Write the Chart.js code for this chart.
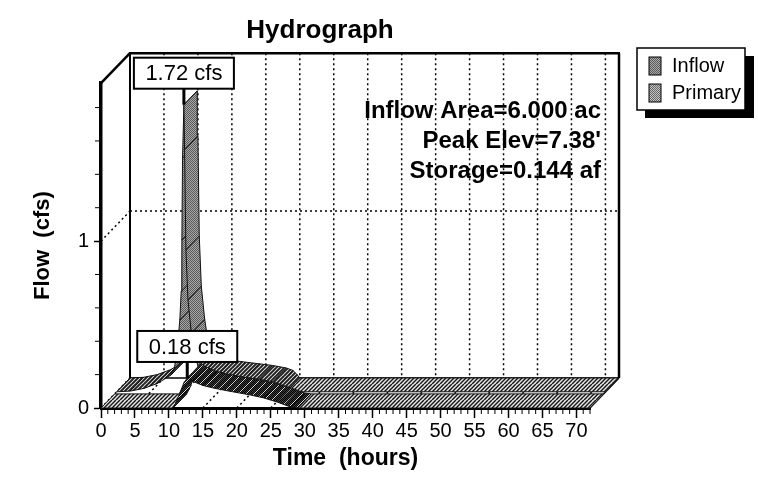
<!DOCTYPE html>
<html>
<head>
<meta charset="utf-8">
<title>Hydrograph</title>
<script src="https://cdn.jsdelivr.net/npm/chart.js@4"></script>
<style>
html, body { margin: 0; padding: 0; background: #fff; }
#wrap { width: 758px; height: 480px; }
</style>
</head>
<body>
<div id="wrap"><canvas id="hydrograph" width="758" height="480"></canvas></div>
<script>
// values
const inflowHours = [0, 2, 4, 5, 6, 7, 8, 8.5, 8.9, 9.3, 9.5, 9.6, 9.7, 9.9, 10, 10.2, 10.5, 11, 11.5, 12, 13, 15, 17, 19, 21, 23, 24, 24.6, 25, 72];
const inflowFlow = [0, 0.004, 0.02, 0.035, 0.05, 0.075, 0.1, 0.14, 0.25, 0.43, 0.6, 0.91, 1.4, 1.72, 1.45, 0.85, 0.55, 0.35, 0.22, 0.15, 0.12, 0.105, 0.095, 0.085, 0.075, 0.06, 0.045, 0.02, 0, 0];
const primaryHours = [0, 10.6, 11, 11.6, 12.2, 12.7, 13.5, 15, 16.5, 19, 22, 24, 26, 27, 28, 29, 72];
const primaryFlow = [0, 0, 0.03, 0.09, 0.15, 0.18, 0.16, 0.135, 0.12, 0.1, 0.078, 0.06, 0.035, 0.02, 0.005, 0, 0];

const xTicks = [0, 5, 10, 15, 20, 25, 30, 35, 40, 45, 50, 55, 60, 65, 70];
const yTicks = [0, 1];
const yMinorTicks = [0.2, 0.4, 0.6, 0.8, 1.2, 1.4, 1.6, 1.8];
const xMax = 72;
const yMax = 1.946;

const seriesNames = ["Inflow", "Primary"];
const noteLines = ["Inflow Area=6.000 ac", "Peak Elev=7.38'", "Storage=0.144 af"];

// depth of the fake 3d box, in data units (about 29px / 30px)
const depthHours = 4.27;
const depthFlow = 0.18;

const FONT = '"Liberation Sans", Arial, sans-serif';

function makePattern(draw) {
    const c = document.createElement("canvas");
    c.width = 8;
    c.height = 8;
    draw(c.getContext("2d"));
    return document.createElement("canvas").getContext("2d").createPattern(c, "repeat");
}

function stipple(ctx, dark, light) {
    ctx.fillStyle = light;
    ctx.fillRect(0, 0, 8, 8);
    ctx.fillStyle = dark;
    for (let y = 0; y < 8; y++) {
        for (let x = 0; x < 8; x++) {
            if ((x + y) % 2 === 0) ctx.fillRect(x, y, 1, 1);
        }
    }
}

function hatch(ctx, line) {
    ctx.strokeStyle = line;
    ctx.lineWidth = 1.5;
    for (let i = -8; i <= 16; i += 4) {
        ctx.beginPath();
        ctx.moveTo(i, 8);
        ctx.lineTo(i + 8, 0);
        ctx.stroke();
    }
}

function sparseHatch(ctx, line) {
    ctx.strokeStyle = line;
    ctx.lineWidth = 1;
    for (let i = -8; i <= 16; i += 8) {
        ctx.beginPath();
        ctx.moveTo(i, 8);
        ctx.lineTo(i + 8, 0);
        ctx.stroke();
    }
}

const inflowSolid = makePattern((ctx) => stipple(ctx, "#5a5a5a", "#a8a8a8"));
const inflowHatch = makePattern((ctx) => { stipple(ctx, "#6e6e6e", "#cfcfcf"); hatch(ctx, "#222"); });
const primarySolid = makePattern((ctx) => stipple(ctx, "#000", "#3a3a3a"));
const primaryHatch = makePattern((ctx) => { stipple(ctx, "#000", "#3a3a3a"); sparseHatch(ctx, "#d8d8d8"); });
const primarySwatch = makePattern((ctx) => stipple(ctx, "#666", "#c4c4c4"));
const floorHatch = makePattern((ctx) => { ctx.fillStyle = "#e8e8e8"; ctx.fillRect(0, 0, 8, 8); hatch(ctx, "#1a1a1a"); });

// one closed quad per stretch of the series, front edge then back edge
function ribbon(hours, flow, nearDepth, farDepth, solid, sloped) {
    const sets = [];
    for (let i = 0; i < hours.length - 1; i++) {
        const rate = Math.abs(flow[i + 1] - flow[i]) / (hours[i + 1] - hours[i]);
        let pattern = sloped;
        if (flow[i] === 0 && flow[i + 1] === 0) pattern = floorHatch;
        else if (rate > 0.12) pattern = solid;
        const corner = (k, d) => ({ x: hours[k] + depthHours * d, y: flow[k] + depthFlow * d });
        sets.push({
            data: [corner(i, nearDepth), corner(i + 1, nearDepth), corner(i + 1, farDepth), corner(i, farDepth), corner(i, nearDepth)],
            quadFill: pattern,
            borderColor: "#111",
            borderWidth: 1,
            pointRadius: 0,
            fill: false,
            clip: false,
        });
    }
    return sets;
}

const inflowSets = ribbon(inflowHours, inflowFlow, 0.54, 1, inflowSolid, inflowHatch);
const primarySets = ribbon(primaryHours, primaryFlow, 0, 0.47, primarySolid, primaryHatch);
// later datasets paint on top only with a lower order
const allSets = inflowSets.concat(primarySets);
allSets.forEach((set, i) => { set.order = allSets.length - i; });

function line(ctx, x1, y1, x2, y2, width, dash) {
    ctx.save();
    ctx.lineWidth = width;
    ctx.strokeStyle = "#000";
    ctx.setLineDash(dash || []);
    ctx.beginPath();
    ctx.moveTo(x1, y1);
    ctx.lineTo(x2, y2);
    ctx.stroke();
    ctx.restore();
}

const boxWalls = {
    id: "boxWalls",
    beforeDatasetsDraw(chart) {
        const { ctx, scales: { x, y } } = chart;
        const dx = x.getPixelForValue(depthHours) - x.getPixelForValue(0);
        const dy = y.getPixelForValue(0) - y.getPixelForValue(depthFlow);
        const left = x.getPixelForValue(0);
        const right = x.getPixelForValue(xMax);
        const top = y.getPixelForValue(yMax);
        const bottom = y.getPixelForValue(0);
        const dots = [2, 3];

        xTicks.forEach((t) => {
            const px = x.getPixelForValue(t);
            line(ctx, px + dx, top - dy, px + dx, bottom - dy, 1.5, dots);
            line(ctx, px, bottom, px + dx, bottom - dy, 1.5, dots);
        });
        const onePx = y.getPixelForValue(1);
        line(ctx, left, onePx, left + dx, onePx - dy, 1.5, dots);
        line(ctx, left + dx, onePx - dy, right + dx, onePx - dy, 1.5, dots);

        line(ctx, left + dx, top - dy, left + dx, bottom - dy, 2);
        line(ctx, left + dx, bottom - dy, right + dx, bottom - dy, 1.5);
        line(ctx, left + dx - 1, top - dy, right + dx + 1, top - dy, 2.5);
        line(ctx, right + dx, top - dy, right + dx, bottom - dy, 2.5);
        line(ctx, left, top, left + dx, top - dy, 2.5);
        line(ctx, right, bottom, right + dx, bottom - dy, 1.5);

        // minor ticks
        for (let t = 0; t <= xMax; t++) {
            if (t % 5 === 0) continue;
            const px = x.getPixelForValue(t);
            line(ctx, px, bottom, px, bottom + 6, 1);
        }
        yMinorTicks.forEach((v) => {
            const py = y.getPixelForValue(v);
            line(ctx, left - 6, py, left, py, 1);
        });
    },
    // the filler clips to the chart area, the quads have to run past it
    beforeDatasetDraw(chart, args) {
        const { ctx } = chart;
        const pts = args.meta.data;
        ctx.save();
        ctx.fillStyle = chart.data.datasets[args.index].quadFill;
        ctx.beginPath();
        pts.forEach((p, i) => (i ? ctx.lineTo(p.x, p.y) : ctx.moveTo(p.x, p.y)));
        ctx.closePath();
        ctx.fill();
        ctx.restore();
    },
};

function peakLabel(ctx, x, y, hour, flow, text, gap) {
    const px = x.getPixelForValue(hour);
    const py = y.getPixelForValue(flow);
    const w = 100, h = 31;
    line(ctx, px, py, px, py - gap, 3);
    ctx.fillStyle = "#fff";
    ctx.fillRect(px - w / 2, py - gap - h, w, h);
    ctx.lineWidth = 2;
    ctx.strokeStyle = "#000";
    ctx.strokeRect(px - w / 2, py - gap - h, w, h);
    ctx.fillStyle = "#000";
    ctx.font = "22px " + FONT;
    ctx.textAlign = "center";
    ctx.textBaseline = "middle";
    ctx.fillText(text, px, py - gap - h / 2 + 1);
}

const overlays = {
    id: "overlays",
    afterDatasetsDraw(chart) {
        const { ctx, scales: { x, y } } = chart;

        const inPeak = inflowFlow.indexOf(Math.max(...inflowFlow));
        const prPeak = primaryFlow.indexOf(Math.max(...primaryFlow));
        peakLabel(ctx, x, y, inflowHours[inPeak] + depthHours * 0.54, inflowFlow[inPeak] + depthFlow * 0.54, inflowFlow[inPeak].toFixed(2) + " cfs", 16);
        peakLabel(ctx, x, y, primaryHours[prPeak], primaryFlow[prPeak], primaryFlow[prPeak].toFixed(2) + " cfs", 16);

        ctx.save();
        ctx.fillStyle = "#000";
        ctx.font = "bold 24px " + FONT;
        ctx.textAlign = "right";
        ctx.textBaseline = "middle";
        noteLines.forEach((text, i) => ctx.fillText(text, 601, 111 + i * 30));

        // legend
        ctx.fillStyle = "#000";
        ctx.fillRect(645, 56, 109, 62);
        ctx.fillStyle = "#fff";
        ctx.fillRect(637, 48, 108, 62);
        ctx.strokeStyle = "#000";
        ctx.lineWidth = 1.5;
        ctx.strokeRect(637, 48, 108, 62);
        [inflowSolid, primarySwatch].forEach((pattern, i) => {
            const top = 57 + i * 27;
            ctx.fillStyle = pattern;
            ctx.fillRect(649, top, 12, 18);
            ctx.lineWidth = 1;
            ctx.strokeRect(649, top, 12, 18);
            ctx.fillStyle = "#000";
            ctx.font = "20px " + FONT;
            ctx.textAlign = "left";
            ctx.fillText(seriesNames[i], 672, top + 9);
        });
        ctx.restore();
    },
};

new Chart(document.getElementById("hydrograph"), {
    type: "line",
    data: { datasets: allSets },
    options: {
        responsive: false,
        animation: false,
        events: [],
        layout: { padding: { left: 50, right: 168, top: 0, bottom: 8 } },
        elements: { line: { tension: 0 } },
        plugins: {
            legend: { display: false },
            tooltip: { enabled: false },
            title: {
                display: true,
                text: "Hydrograph",
                color: "#000",
                font: { family: FONT, size: 26, weight: "bold" },
                padding: { top: 15, bottom: 37 },
            },
        },
        scales: {
            x: {
                type: "linear",
                min: 0,
                max: xMax,
                afterBuildTicks(scale) { scale.ticks = xTicks.map((value) => ({ value })); },
                afterFit(scale) { scale.height = 64; },
                ticks: {
                    autoSkip: false,
                    maxRotation: 0,
                    padding: 1,
                    color: "#000",
                    font: { family: FONT, size: 20 },
                },
                grid: { drawOnChartArea: false, tickLength: 10, tickColor: "#000", tickWidth: 1.5 },
                border: { color: "#000", width: 3 },
                title: {
                    display: true,
                    text: "Time  (hours)",
                    color: "#000",
                    font: { family: FONT, size: 23, weight: "bold" },
                    padding: { top: 6, bottom: 0 },
                },
            },
            y: {
                type: "linear",
                min: 0,
                max: yMax,
                afterBuildTicks(scale) { scale.ticks = yTicks.map((value) => ({ value })); },
                afterFit(scale) { scale.width = 51; },
                ticks: {
                    autoSkip: false,
                    padding: 5,
                    color: "#000",
                    font: { family: FONT, size: 20 },
                },
                grid: { drawOnChartArea: false, tickLength: 7, tickColor: "#000", tickWidth: 1.5 },
                border: { color: "#000", width: 3.5 },
                title: {
                    display: true,
                    text: "Flow  (cfs)",
                    color: "#000",
                    font: { family: FONT, size: 22, weight: "bold" },
                    padding: { top: -20, bottom: 0 },
                },
            },
        },
    },
    plugins: [boxWalls, overlays],
});
</script>
</body>
</html>
